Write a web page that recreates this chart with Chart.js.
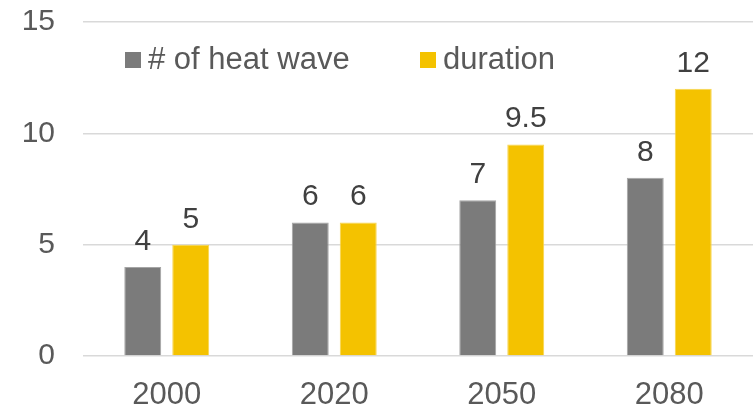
<!DOCTYPE html>
<html>
<head>
<meta charset="utf-8">
<script src="https://cdn.jsdelivr.net/npm/chart.js@4"></script>
<style>
  html, body { margin: 0; padding: 0; background: #fff; }
  #wrap { width: 753px; height: 409px; }
</style>
</head>
<body>
<div id="wrap"><canvas id="chart"></canvas></div>
<script>
// data
const years = ['2000', '2020', '2050', '2080'];
const heatWaves = [4, 6, 7, 8];
const duration = [5, 6, 9.5, 12];
const yTicks = [0, 5, 10, 15];

const FONT = "'Liberation Sans', Arial, sans-serif";
const TEXT = '#595959';

// value labels above each bar
const barLabels = {
    id: 'barLabels',
    afterDatasetsDraw(chart) {
        const ctx = chart.ctx;
        ctx.save();
        ctx.font = '30px ' + FONT;
        ctx.fillStyle = '#404040';
        ctx.textAlign = 'center';
        ctx.textBaseline = 'alphabetic';
        chart.data.datasets.forEach((ds, i) => {
            chart.getDatasetMeta(i).data.forEach((bar, j) => {
                ctx.fillText(String(ds.data[j]), bar.x, bar.y - 17);
            });
        });
        ctx.restore();
    }
};

// legend drawn inside the plot area, like the original
const insideLegend = {
    id: 'insideLegend',
    afterDraw(chart) {
        const ctx = chart.ctx;
        const xs = [125, 420];
        ctx.save();
        ctx.font = '31px ' + FONT;
        ctx.textBaseline = 'middle';
        chart.data.datasets.forEach((ds, i) => {
            ctx.fillStyle = ds.backgroundColor;
            ctx.fillRect(xs[i], 52, 16, 16);
            ctx.fillStyle = TEXT;
            ctx.fillText(ds.label, xs[i] + 23, 60);
        });
        ctx.restore();
    }
};

new Chart(document.getElementById('chart'), {
    type: 'bar',
    data: {
        labels: years,
        datasets: [
            {
                label: '# of heat wave',
                data: heatWaves,
                backgroundColor: '#7b7b7b',
                borderColor: '#a5a5a5',
                borderWidth: 1
            },
            {
                label: 'duration',
                data: duration,
                backgroundColor: '#f4c200',
                borderColor: '#f8d54d',
                borderWidth: 1
            }
        ]
    },
    options: {
        responsive: true,
        maintainAspectRatio: false,
        animation: false,
        layout: { padding: { top: 22, right: 0, left: 0, bottom: 0 } },
        datasets: {
            bar: { barPercentage: 0.77, categoryPercentage: 0.573 }
        },
        plugins: {
            legend: { display: false },
            tooltip: { enabled: false }
        },
        scales: {
            x: {
                grid: { display: false },
                border: { display: false },
                ticks: { color: TEXT, font: { size: 31, family: FONT }, padding: 13 },
                afterFit(scale) {
                    scale.height = 53;
                    scale.paddingLeft = 0;
                    scale.paddingRight = 0;
                }
            },
            y: {
                min: 0,
                max: 15,
                afterBuildTicks(scale) { scale.ticks = yTicks.map(v => ({ value: v })); },
                grid: { color: '#d9d9d9', lineWidth: 1.5, drawTicks: false },
                border: { display: false },
                ticks: { color: TEXT, font: { size: 30, family: FONT }, padding: 28 },
                afterFit(scale) {
                    scale.width = 83;
                    scale.paddingTop = 0;
                    scale.paddingBottom = 0;
                }
            }
        }
    },
    plugins: [barLabels, insideLegend]
});
</script>
</body>
</html>
